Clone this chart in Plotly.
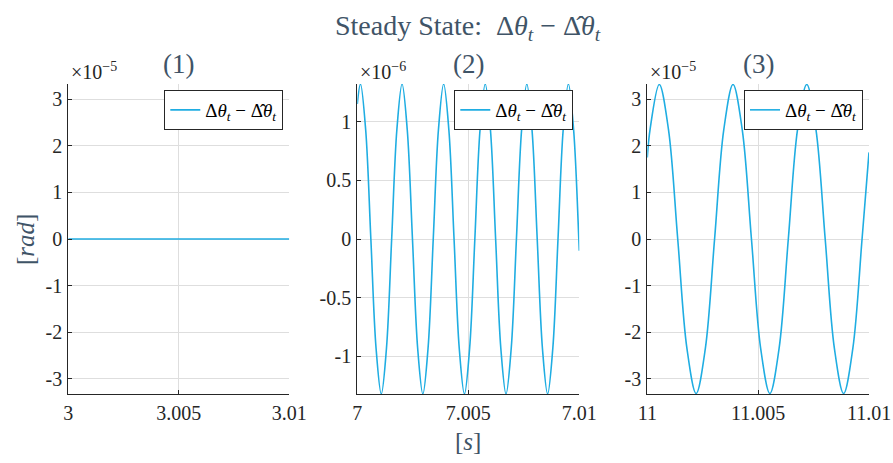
import plotly.graph_objects as go

# ---------------- data ----------------
# Panel (1): error is zero over the whole window (units: 1e-5 rad)
t1 = [3.000, 3.010]
e1 = [0.0, 0.0]

# Panel (2): units 1e-6 rad
t2 = [7.000000, 7.000143, 7.000377, 7.000611, 7.000845, 7.001080, 7.001314, 7.001548, 7.001782,
      7.002016, 7.002250, 7.002485, 7.002719, 7.002953, 7.003187, 7.003421, 7.003655,
      7.003890, 7.004124, 7.004358, 7.004592, 7.004826, 7.005060, 7.005295, 7.005529,
      7.005763, 7.005997, 7.006231, 7.006465, 7.006699, 7.006934, 7.007168, 7.007402,
      7.007636, 7.007870, 7.008104, 7.008339, 7.008573, 7.008807, 7.009041, 7.009275,
      7.009509, 7.009744, 7.009978, 7.010000]
e2 = [1.15, 1.32, 0.93, 0.0, -0.93, -1.32, -0.93, 0.0, 0.93,
      1.32, 0.93, 0.0, -0.93, -1.32, -0.93, 0.0, 0.93,
      1.32, 0.93, 0.0, -0.93, -1.32, -0.93, 0.0, 0.93,
      1.32, 0.93, 0.0, -0.93, -1.32, -0.93, 0.0, 0.93,
      1.32, 0.93, 0.0, -0.93, -1.32, -0.93, 0.0, 0.93,
      1.32, 0.93, 0.0, -0.10]

# Panel (3): units 1e-5 rad
t3 = [11.000000, 11.000124, 11.000540, 11.000956, 11.001372, 11.001787, 11.002203, 11.002619,
      11.003035, 11.003450, 11.003866, 11.004282, 11.004698, 11.005113, 11.005529, 11.005945,
      11.006361, 11.006776, 11.007192, 11.007608, 11.008024, 11.008439, 11.008855, 11.009271,
      11.009687, 11.010000]
e3 = [1.75, 2.35, 3.32, 2.35, 0.0, -2.35, -3.32, -2.35,
      0.0, 2.35, 3.32, 2.35, 0.0, -2.35, -3.32, -2.35,
      0.0, 2.35, 3.32, 2.35, 0.0, -2.35, -3.32, -2.35,
      0.0, 1.86]

x_tickvals = [[3, 3.005, 3.01], [7, 7.005, 7.01], [11, 11.005, 11.01]]
x_ticktext = [["3", "3.005", "3.01"], ["7", "7.005", "7.01"], ["11", "11.005", "11.01"]]
y_tickvals_a = [-3, -2, -1, 0, 1, 2, 3]
y_ticktext_a = ["-3", "-2", "-1", "0", "1", "2", "3"]
y_tickvals_b = [-1, -0.5, 0, 0.5, 1]
y_ticktext_b = ["-1", "-0.5", "0", "0.5", "1"]
exponents = ["\u22125", "\u22126", "\u22125"]
panel_titles = ["(1)", "(2)", "(3)"]
x_ranges = [[3, 3.01], [7, 7.01], [11, 11.01]]
y_ranges = [[-3.33, 3.33], [-1.32, 1.32], [-3.33, 3.33]]

series_name = ("\u0394<i>\u03b8</i><sub><i>t</i></sub> \u2212 "
               "\u0394\u0302<i>\u03b8</i><sub><i>t</i></sub>")
title_text = "Steady State:  " + series_name

# ---------------- styling ----------------
W, H = 893, 463
FONT = "'Liberation Serif', 'DejaVu Serif', serif"
LINE = "#1fade2"
AX = "#262626"
GRID = "#dedede"
TXT = "#3f5467"

x_domains = [[68.3 / W, 289.3 / W], [357.3 / W, 579.3 / W], [647.3 / W, 869.0 / W]]
y_domain = [1 - 394 / H, 1 - 84 / H]

fig = go.Figure()
data = [(t1, e1), (t2, e2), (t3, e3)]
for i, (tt, ee) in enumerate(data):
    sfx = "" if i == 0 else str(i + 1)
    fig.add_trace(go.Scatter(
        x=tt, y=ee, mode="lines", name=series_name,
        line=dict(color=LINE, width=1.6, shape="spline", smoothing=1.0),
        xaxis="x" + sfx, yaxis="y" + sfx, legend="legend" + sfx, showlegend=True))

for i in range(3):
    sfx = "" if i == 0 else str(i + 1)
    yt = (y_tickvals_b, y_ticktext_b) if i == 1 else (y_tickvals_a, y_ticktext_a)
    fig.layout["xaxis" + sfx] = dict(
        domain=x_domains[i], anchor="y" + sfx, range=x_ranges[i], automargin=False,
        tickvals=x_tickvals[i], ticktext=x_ticktext[i],
        showline=True, linecolor=AX, linewidth=1.3, mirror=False,
        ticks="inside", ticklen=4, tickcolor=AX, tickwidth=1,
        showgrid=True, gridcolor=GRID, gridwidth=1, zeroline=False,
        tickfont=dict(family=FONT, size=20, color=AX), ticklabelstandoff=1)
    fig.layout["yaxis" + sfx] = dict(
        domain=y_domain, anchor="x" + sfx, range=y_ranges[i], automargin=False,
        tickvals=yt[0], ticktext=yt[1],
        showline=True, linecolor=AX, linewidth=1.3, mirror=False,
        ticks="inside", ticklen=4, tickcolor=AX, tickwidth=1,
        showgrid=True, gridcolor=GRID, gridwidth=1, zeroline=False,
        tickfont=dict(family=FONT, size=20, color=AX), ticklabelstandoff=1)
    leg = dict(x=(x_domains[i][1] * W - 6) / W, y=1 - 90 / H, xanchor="right", yanchor="top",
               bgcolor="white", bordercolor=AX, borderwidth=1,
               font=dict(family=FONT, size=19, color="black"),
               itemwidth=30, tracegroupgap=0)
    fig.layout["legend" + sfx] = leg

annotations = [
    dict(text=title_text, x=468 / W, y=1 - 27 / H, xref="paper", yref="paper",
         xanchor="center", yanchor="middle",
         showarrow=False, font=dict(family=FONT, size=28, color=TXT)),
    dict(text="[<i>rad</i>]", x=25 / W, y=1 - 240 / H, xref="paper", yref="paper",
         xanchor="center", yanchor="middle",
         showarrow=False, textangle=-90, font=dict(family=FONT, size=25, color=TXT)),
    dict(text="[<i>s</i>]", x=468 / W, y=1 - 441 / H, xref="paper", yref="paper",
         xanchor="center", yanchor="middle",
         showarrow=False, font=dict(family=FONT, size=25, color=TXT)),
]
for i in range(3):
    cx = (x_domains[i][0] + x_domains[i][1]) / 2
    annotations.append(dict(text=panel_titles[i], x=cx, y=1 - 64 / H, xref="paper", yref="paper",
                            xanchor="center", yanchor="middle",
                            showarrow=False, font=dict(family=FONT, size=27, color=TXT)))
    annotations.append(dict(text="\u00d710<sup>" + exponents[i] + "</sup>",
                            x=(x_domains[i][0] * W + 1) / W, y=1 - 71 / H, xref="paper", yref="paper",
                            xanchor="left", yanchor="middle", showarrow=False,
                            font=dict(family=FONT, size=20, color=AX)))

fig.update_layout(
    width=W, height=H, margin=dict(l=0, r=0, t=0, b=0, autoexpand=False),
    paper_bgcolor="white", plot_bgcolor="white",
    font=dict(family=FONT),
    annotations=annotations, showlegend=True)

fig.write_html("out.html")
